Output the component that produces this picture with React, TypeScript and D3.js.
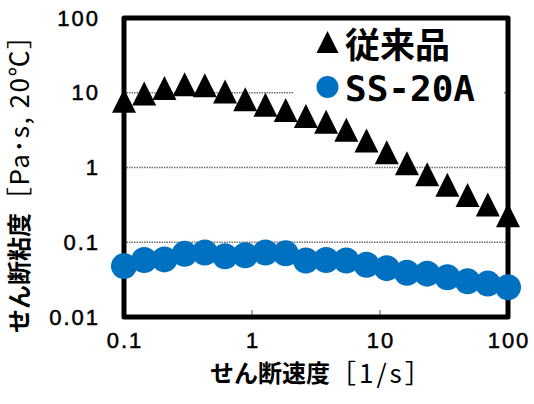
import React from "react";
import * as d3 from "d3";

const shearRates = [0.1, 0.1438, 0.2069, 0.2976, 0.4281, 0.6158, 0.8859, 1.274, 1.833, 2.637, 3.793, 5.456, 7.848, 11.29, 16.24, 23.36, 33.6, 48.33, 69.52, 100];
const conventional = [7.8, 9.8, 11.6, 13.0, 12.6, 10.4, 8.2, 6.9, 5.9, 4.9, 4.1, 3.2, 2.3, 1.6, 1.14, 0.81, 0.59, 0.43, 0.32, 0.23];
const ss20a = [0.048, 0.058, 0.059, 0.07, 0.073, 0.065, 0.067, 0.073, 0.071, 0.057, 0.058, 0.057, 0.05, 0.045, 0.039, 0.038, 0.034, 0.03, 0.028, 0.025];
const xTicks = [0.1, 1, 10, 100];
const xTickLabels = ["0.1", "1", "10", "100"];
const yTicks = [0.01, 0.1, 1, 10, 100];
const yTickLabels = ["0.01", "0.1", "1", "10", "100"];
const seriesNames = ["従来品", "SS-20A"];

const W = 534, H = 404;
const L = 124, R = 508, T = 18, B = 317;
const BLUE = "#0070C0";

function triPath(cx: number, cy: number, w: number, h: number) {
  return `M${cx},${cy - h / 2}L${cx + w / 2},${cy + h / 2}L${cx - w / 2},${cy + h / 2}Z`;
}

export default function App() {
  const x = d3.scaleLog().domain([0.1, 100]).range([L, R]);
  const y = d3.scaleLog().domain([0.01, 100]).range([B, T]);
  const num = "'Liberation Sans', Arial, sans-serif";
  const jp = "'Noto Sans CJK JP', sans-serif";
  return (
    <svg width={W} height={H} style={{ position: "absolute", left: 0, top: 0, background: "#fff" }}>
      {/* gridlines */}
      {yTicks.slice(1, 4).map((t) => (
        <line key={t} x1={L} x2={R} y1={y(t)} y2={y(t)} stroke="#6f6f6f" strokeWidth={1.3} strokeDasharray="1.5,1" />
      ))}
      {/* x ticks */}
      {xTicks.slice(1, 3).map((t) => (
        <line key={t} x1={x(t)} x2={x(t)} y1={B} y2={B - 7} stroke="#595959" strokeWidth={1} />
      ))}
      {/* legend box */}
      <rect x={293} y={22} width={210} height={84} fill="#fff" />
      {/* frame */}
      <rect x={L} y={T} width={R - L} height={B - T} fill="none" stroke="#000" strokeWidth={5} strokeLinejoin="round" />
      {/* series */}
      {conventional.map((v, i) => (
        <path key={"t" + i} d={triPath(x(shearRates[i]), y(v), 24, 24)} fill="#000" />
      ))}
      {ss20a.map((v, i) => (
        <circle key={"c" + i} cx={x(shearRates[i])} cy={y(v)} r={13} fill={BLUE} />
      ))}
      {/* y tick labels */}
      {yTicks.map((t, i) => (
        <text key={t} x={100} y={y(t)} textAnchor="end" dominantBaseline="central" fontFamily={num} fontSize={22} letterSpacing={2} stroke="#000" strokeWidth={0.5} fill="#000">
          {yTickLabels[i]}
        </text>
      ))}
      {/* x tick labels */}
      {xTicks.map((t, i) => (
        <text key={t} x={x(t) + 1} y={340} textAnchor="middle" dominantBaseline="central" fontFamily={num} fontSize={22} letterSpacing={2} stroke="#000" strokeWidth={0.5} fill="#000">
          {xTickLabels[i]}
        </text>
      ))}
      {/* axis titles */}
      <text x={210} y={371} dominantBaseline="central" fontFamily={jp} fontSize={24} fill="#000">
        <tspan fontWeight="bold">せん断速度</tspan>
        <tspan fontWeight={400} fontSize={26} letterSpacing={3}>［1/s］</tspan>
      </text>
      <text transform="translate(17,333) rotate(-90)" dominantBaseline="central" fontFamily={jp} fontSize={24} fill="#000">
        <tspan fontWeight="bold">せん断粘度</tspan>
        <tspan fontWeight={400} fontSize={26} letterSpacing={1.5}>［Pa･s, 20℃］</tspan>
      </text>
      {/* legend */}
      <path d={triPath(327.5, 42, 22, 22)} fill="#000" />
      <text x={345} y={42} dominantBaseline="central" fontFamily={jp} fontWeight="bold" fontSize={35} fill="#000">
        {seriesNames[0]}
      </text>
      <circle cx={327.5} cy={87} r={11} fill={BLUE} />
      <text x={345} y={88} dominantBaseline="central" fontFamily="'DejaVu Sans Mono', monospace" fontWeight="bold" fontSize={36} fill="#000">
        {seriesNames[1]}
      </text>
    </svg>
  );
}
